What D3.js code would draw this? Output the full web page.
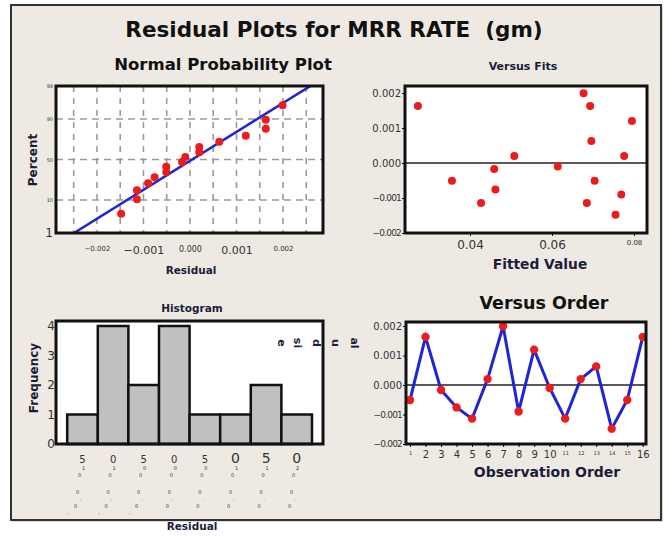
<!DOCTYPE html>
<html>
<head>
<meta charset="utf-8">
<script src="https://cdn.jsdelivr.net/npm/d3@7"></script>
<style>
  body { margin: 0; background: #fff; }
  text { font-family: "DejaVu Sans", Verdana, sans-serif; fill: #1c1c3a; }
  .domain { display: none; }
</style>
</head>
<body>
<div id="chart"></div>
<script>
// residuals in observation order, and the fitted values that go with them
const observation = [1, 2, 3, 4, 5, 6, 7, 8, 9, 10, 11, 12, 13, 14, 15, 16];
const residuals = [-0.00051, 0.00163, -0.00017, -0.00076, -0.00114, 0.0002, 0.00199, -0.0009,
                   0.0012, -0.0001, -0.00114, 0.0002, 0.00063, -0.00148, -0.00051, 0.00163];
const fittedValues = [0.0356, 0.0273, 0.0459, 0.0462, 0.0427, 0.0508, 0.0677, 0.0769,
                      0.0795, 0.0614, 0.0685, 0.0776, 0.0696, 0.0755, 0.0704, 0.0693];

const probPercentTicks = [1, 10, 50, 90, 99];
const probResidTicks = [-0.002, -0.001, 0, 0.001, 0.002];
const probGridX = [-0.0025, -0.002, -0.0015, -0.001, -0.0005, 0, 0.0005, 0.001, 0.0015, 0.002, 0.0025];
const probGridPct = [10, 50, 90];
const residTicks = [-0.002, -0.001, 0, 0.001, 0.002];
const fitsTicks = [0.04, 0.06, 0.08];
const histEdges = [-0.00175, -0.00125, -0.00075, -0.00025, 0.00025, 0.00075, 0.00125, 0.00175, 0.00225];
const histLabels = ["-0.0015", "-0.0010", "-0.0005", "0.0000", "0.0005", "0.0010", "0.0015", "0.0020"];
const freqTicks = [0, 1, 2, 3, 4];

// inverse normal cdf (Acklam)
function qnorm(p) {
   const a = [-39.69683028665376, 220.9460984245205, -275.9285104469687, 138.357751867269, -30.66479806614716, 2.506628277459239];
   const b = [-54.47609879822406, 161.5858368580409, -155.6989798598866, 66.80131188771972, -13.28068155288572];
   const c = [-0.007784894002430293, -0.3223964580411365, -2.400758277161838, -2.549732539343734, 4.374664141464968, 2.938163982698783];
   const d = [0.007784695709041462, 0.3224671290700398, 2.445134137142996, 3.754408661907416];
   const pl = 0.02425;
   let q, r;
   if (p < pl) {
      q = Math.sqrt(-2 * Math.log(p));
      return (((((c[0] * q + c[1]) * q + c[2]) * q + c[3]) * q + c[4]) * q + c[5]) / ((((d[0] * q + d[1]) * q + d[2]) * q + d[3]) * q + 1);
   }
   if (p > 1 - pl) {
      q = Math.sqrt(-2 * Math.log(1 - p));
      return -(((((c[0] * q + c[1]) * q + c[2]) * q + c[3]) * q + c[4]) * q + c[5]) / ((((d[0] * q + d[1]) * q + d[2]) * q + d[3]) * q + 1);
   }
   q = p - 0.5;
   r = q * q;
   return (((((a[0] * r + a[1]) * r + a[2]) * r + a[3]) * r + a[4]) * r + a[5]) * q / (((((b[0] * r + b[1]) * r + b[2]) * r + b[3]) * r + b[4]) * r + 1);
}

const RED = "#ec1c1c";
const BLUE = "#1f24d6";

const svg = d3.select("#chart").append("svg").attr("width", 668).attr("height", 536);

// outer frame
svg.append("rect").attr("x", 13).attr("y", 7).attr("width", 650).attr("height", 515).attr("fill", "#d9d9d9");
svg.append("rect")
   .attr("x", 11).attr("y", 5).attr("width", 650).attr("height", 515)
   .attr("fill", "#eeeae3").attr("stroke", "#333").attr("stroke-width", 2);

svg.append("text")
   .attr("x", 334).attr("y", 37).attr("text-anchor", "middle")
   .style("font-size", "21.5px").style("font-weight", "bold").style("fill", "#111")
   .style("white-space", "pre")
   .text("Residual Plots for MRR RATE  (gm)");

function plotBox(x0, y0, x1, y1) {
   svg.append("rect").attr("x", x0).attr("y", y0).attr("width", x1 - x0).attr("height", y1 - y0).attr("fill", "#fff");
}
function plotBorder(x0, y0, x1, y1) {
   svg.append("rect").attr("x", x0).attr("y", y0).attr("width", x1 - x0).attr("height", y1 - y0)
      .attr("fill", "none").attr("stroke", "#111").attr("stroke-width", 3);
}
function label(x, y, txt, size, opts = {}) {
   const t = svg.append("text").attr("x", x).attr("y", y).attr("text-anchor", opts.anchor || "middle")
      .style("font-size", size + "px").style("font-weight", opts.bold ? "bold" : "normal").text(txt);
   if (opts.rotate) t.attr("transform", `rotate(${opts.rotate},${x},${y})`);
   if (opts.color) t.style("fill", opts.color);
   return t;
}

// ---------- Normal probability plot ----------
{
   const x0 = 56, x1 = 323, y0 = 86, y1 = 233;
   const x = d3.scaleLinear().domain([-0.00288, 0.00286]).range([x0, x1]);
   const y = d3.scaleLinear().domain([qnorm(0.01), qnorm(0.99)]).range([y1, y0]);
   plotBox(x0, y0, x1, y1);

   svg.append("g").selectAll("line").data(probGridX).join("line")
      .attr("x1", (d) => x(d)).attr("x2", (d) => x(d)).attr("y1", y0).attr("y2", y1)
      .attr("stroke", "#9a9a9a").attr("stroke-width", 1.6).attr("stroke-dasharray", "6,6");
   svg.append("g").selectAll("line").data(probGridPct).join("line")
      .attr("x1", x0).attr("x2", x1).attr("y1", (d) => y(qnorm(d / 100))).attr("y2", (d) => y(qnorm(d / 100)))
      .attr("stroke", "#9a9a9a").attr("stroke-width", 1.6).attr("stroke-dasharray", "7,5");

   svg.append("clipPath").attr("id", "clipProb").append("rect")
      .attr("x", x0).attr("y", y0).attr("width", x1 - x0).attr("height", y1 - y0);

   const mean = d3.mean(residuals), sd = d3.deviation(residuals);
   const zEnds = [qnorm(0.002), qnorm(0.998)];
   svg.append("path")
      .attr("clip-path", "url(#clipProb)")
      .attr("d", d3.line().x((z) => x(mean + sd * z)).y((z) => y(z))(zEnds))
      .attr("stroke", BLUE).attr("stroke-width", 2.5).attr("fill", "none");

   const n = residuals.length;
   const sorted = residuals.slice().sort(d3.ascending);
   svg.append("g").selectAll("circle").data(sorted).join("circle")
      .attr("cx", (d) => x(d)).attr("cy", (d, i) => y(qnorm((i + 1 - 0.3) / (n + 0.4))))
      .attr("r", 4).attr("fill", RED);
   plotBorder(x0, y0, x1, y1);

   const ax = svg.append("g").attr("transform", `translate(0,${y1})`)
      .call(d3.axisBottom(x).tickValues(probResidTicks).tickSize(0).tickPadding(13).tickFormat(d3.format(".3f")));
   ax.selectAll("text").style("font-size", (d) => (Math.abs(d) > 0.0015 ? "7px" : d === 0 ? "8px" : "11px"));
   ax.selectAll("text").style("fill", "#333");

   const zTicks = probPercentTicks.map((p) => qnorm(p / 100));
   const ay = svg.append("g").attr("transform", `translate(${x0},0)`)
      .call(d3.axisLeft(y).tickValues(zTicks).tickSize(0).tickPadding(3).tickFormat((d, i) => probPercentTicks[i]));
   ay.selectAll("text").style("font-size", (d, i) => (i === 0 ? "12px" : "5px")).style("fill", "#333");

   label(223, 70, "Normal Probability Plot", 16.5, { bold: true, color: "#111" });
   label(191, 274, "Residual", 10.5, { bold: true });
   label(37, 160, "Percent", 12, { bold: true, rotate: -90 });
}

// ---------- Versus fits ----------
{
   const x0 = 405, x1 = 647, y0 = 86, y1 = 233;
   const x = d3.scaleLinear().domain([0.02415, 0.08317]).range([x0, x1]);
   const y = d3.scaleLinear().domain([-0.002, 0.002]).range([y1, y1 - 140]);
   plotBox(x0, y0, x1, y1);
   svg.append("line").attr("x1", x0).attr("x2", x1).attr("y1", y(0)).attr("y2", y(0))
      .attr("stroke", "#222").attr("stroke-width", 1.6);
   svg.append("g").selectAll("circle").data(residuals).join("circle")
      .attr("cx", (d, i) => x(fittedValues[i])).attr("cy", (d) => y(d))
      .attr("r", 4).attr("fill", RED);
   plotBorder(x0, y0, x1, y1);

   const ax = svg.append("g").attr("transform", `translate(0,${y1})`)
      .call(d3.axisBottom(x).tickValues(fitsTicks).tickSize(3).tickPadding(4).tickFormat(d3.format(".2f")));
   ax.selectAll("text").style("font-size", (d) => (d > 0.07 ? "7px" : "12px")).style("fill", "#333");
   const ay = svg.append("g").attr("transform", `translate(${x0},0)`)
      .call(d3.axisLeft(y).tickValues(residTicks).tickSize(3).tickPadding(1).tickFormat(d3.format(".3f")));
   ay.selectAll("text").style("font-size", (d) => (d < 0 ? "9px" : "10px")).style("letter-spacing", (d) => (d < 0 ? "-0.8px" : "0px")).style("fill", "#333");

   label(523, 70, "Versus Fits", 11, { bold: true });
   label(540, 269, "Fitted Value", 13.8, { bold: true });
}

// ---------- Histogram ----------
{
   const x0 = 56, x1 = 323, y0 = 321, y1 = 444;
   const x = d3.scaleLinear().domain([-0.001933, 0.00243]).range([x0, x1]);
   const y = d3.scaleLinear().domain([0, 4]).range([y1, 326]);
   plotBox(x0, y0, x1, y1);
   const bins = d3.bin().domain([histEdges[0], histEdges[histEdges.length - 1]]).thresholds(histEdges.slice(1, -1))(residuals);
   svg.append("g").selectAll("rect").data(bins).join("rect")
      .attr("x", (d) => x(d.x0)).attr("width", (d) => x(d.x1) - x(d.x0))
      .attr("y", (d) => y(d.length)).attr("height", (d) => y(0) - y(d.length))
      .attr("fill", "#c0c0c0").attr("stroke", "#111").attr("stroke-width", 2.5);
   plotBorder(x0, y0, x1, y1);

   const ay = svg.append("g").attr("transform", `translate(${x0},0)`)
      .call(d3.axisLeft(y).tickValues(freqTicks).tickSize(0).tickPadding(1).tickFormat(d3.format("d")));
   ay.selectAll("text").style("font-size", "12px").style("fill", "#333");

   // tick labels, drawn character by character as the original shows them
   const centers = bins.map((b) => (b.x0 + b.x1) / 2);
   const dxs = [1, -3, -5, -2, -7, -14];
   const dys = [470, 477, 494, 501, 508, 515];
   const g = svg.append("g");
   histLabels.forEach((lab, i) => {
      const cx = x(centers[i]);
      const chars = lab.split("").reverse();
      g.append("text").attr("x", cx).attr("y", 463).attr("text-anchor", "middle")
         .style("font-size", i < 5 ? "10px" : "14px").style("fill", "#333").text(chars[0]);
      chars.slice(1).forEach((ch, k) => {
         g.append("text").attr("x", cx + dxs[k]).attr("y", dys[k]).attr("text-anchor", "middle")
            .style("font-size", "5px").style("fill", "#333").text(ch);
      });
   });

   label(192, 312, "Histogram", 10.5, { bold: true });
   label(192, 530, "Residual", 10.5, { bold: true });
   label(38, 378, "Frequency", 12, { bold: true, rotate: -90 });
}

// ---------- Versus order ----------
{
   const x0 = 406, x1 = 646, y0 = 322, y1 = 444;
   const x = d3.scaleLinear().domain([0.742, 16.21]).range([x0, x1]);
   const y = d3.scaleLinear().domain([-0.002, 0.002]).range([y1, 326]);
   plotBox(x0, y0, x1, y1);
   svg.append("line").attr("x1", x0).attr("x2", x1).attr("y1", y(0)).attr("y2", y(0))
      .attr("stroke", "#222").attr("stroke-width", 1.6);
   svg.append("path")
      .attr("d", d3.line().x((d, i) => x(observation[i])).y((d) => y(d))(residuals))
      .attr("stroke", BLUE).attr("stroke-width", 3).attr("fill", "none");
   svg.append("g").selectAll("circle").data(residuals).join("circle")
      .attr("cx", (d, i) => x(observation[i])).attr("cy", (d) => y(d))
      .attr("r", 4.2).attr("fill", RED);
   plotBorder(x0, y0, x1, y1);

   const ax = svg.append("g").attr("transform", `translate(0,${y1})`)
      .call(d3.axisBottom(x).tickValues(observation).tickSize(3).tickPadding(4).tickFormat(d3.format("d")));
   ax.selectAll("text").style("font-size", (d) => (d === 1 || (d > 10 && d < 16) ? "5px" : "10px")).style("fill", "#333");
   const ay = svg.append("g").attr("transform", `translate(${x0},0)`)
      .call(d3.axisLeft(y).tickValues(residTicks).tickSize(3).tickPadding(1).tickFormat(d3.format(".3f")));
   ay.selectAll("text").style("font-size", (d) => (d < 0 ? "9px" : "10px")).style("letter-spacing", (d) => (d < 0 ? "-0.8px" : "0px")).style("fill", "#333");

   label(544, 309, "Versus Order", 17.5, { bold: true, color: "#111" });
   label(547, 477, "Observation Order", 14, { bold: true });

   // y-axis title, broken into pieces like the original
   const pieces = [["e", 278], ["si", 294], ["d", 313], ["u", 332], ["al", 351]];
   pieces.forEach(([t, px]) => label(px, 343, t, 11, { bold: true, rotate: 90 }));
}
</script>
</body>
</html>
